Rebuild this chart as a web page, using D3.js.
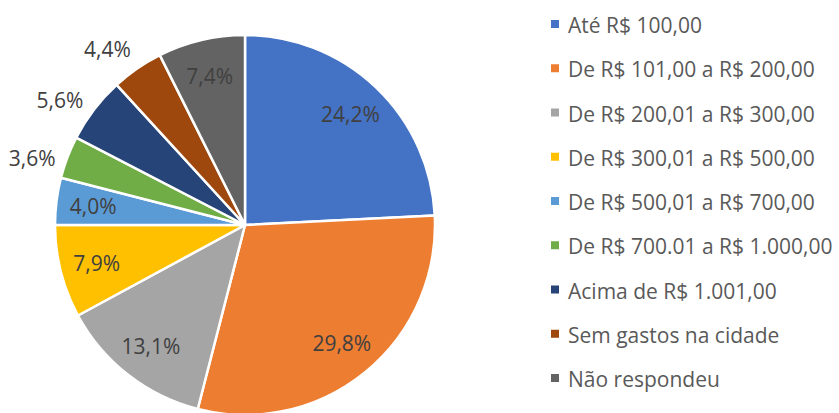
<!DOCTYPE html>
<html>
<head>
<meta charset="utf-8">
<script src="https://cdn.jsdelivr.net/npm/d3@7"></script>
<style>
  html, body { margin: 0; padding: 0; background: #fff; }
  svg { display: block; }
  text { font-family: "Open Sans", sans-serif; fill: #595959; }
</style>
</head>
<body>
<svg id="chart" width="839" height="413"></svg>
<script>
const categories = [
  "Até R$ 100,00",
  "De R$ 101,00 a R$ 200,00",
  "De R$ 200,01 a R$ 300,00",
  "De R$ 300,01 a R$ 500,00",
  "De R$ 500,01 a R$ 700,00",
  "De R$ 700.01 a R$ 1.000,00",
  "Acima de R$ 1.001,00",
  "Sem gastos na cidade",
  "Não respondeu"
];
const values = [24.2, 29.8, 13.1, 7.9, 4.0, 3.6, 5.6, 4.4, 7.4];
const valueLabels = ["24,2%", "29,8%", "13,1%", "7,9%", "4,0%", "3,6%", "5,6%", "4,4%", "7,4%"];
const outsideLabel = [false, false, false, false, false, true, true, true, false];
const colors = ["#4472C4", "#ED7D31", "#A5A5A5", "#FFC000", "#5B9BD5", "#70AD47", "#264478", "#9E480E", "#636363"];

const svg = d3.select("#chart");
const cx = 245, cy = 225, R = 190;

const data = categories.map((c, i) => ({ cat: c, value: values[i], label: valueLabels[i], out: outsideLabel[i], i }));
const pie = d3.pie().value(d => d.value).sort(null);
const arcs = pie(data);
const arc = d3.arc().innerRadius(0).outerRadius(R);
const color = d3.scaleOrdinal().domain(categories).range(colors);

const g = svg.append("g").attr("transform", `translate(${cx},${cy})`);
g.selectAll("path.slice").data(arcs).enter().append("path")
  .attr("class", "slice")
  .attr("d", arc)
  .attr("fill", d => color(d.data.cat))
  .attr("stroke", "#fff")
  .attr("stroke-width", 2.5)
  .attr("stroke-linejoin", "round");

function labelPos(d) {
  const mid = (d.startAngle + d.endAngle) / 2;
  const a = d.data.out ? mid - 3.5 * Math.PI / 180 : mid;
  const r = d.data.out ? 223 : 153;
  return [r * Math.sin(a), -r * Math.cos(a)];
}

g.selectAll("text.lbl").data(arcs).enter().append("text")
  .attr("class", "lbl")
  .attr("transform", d => `translate(${labelPos(d)})`)
  .attr("text-anchor", "middle")
  .attr("dominant-baseline", "central")
  .style("font-size", "21px")
  .style("fill", "#404040")
  .text(d => d.data.label);

// legend
const legY = d3.scalePoint().domain(categories).range([24, 378]);
const leg = svg.append("g");
const items = leg.selectAll("g").data(categories).enter().append("g")
  .attr("transform", d => `translate(551,${legY(d)})`);
items.append("rect").attr("x", 0).attr("y", -4).attr("width", 8).attr("height", 8)
  .attr("fill", d => color(d));
items.append("text").attr("x", 17).attr("y", 1)
  .attr("dominant-baseline", "central")
  .style("font-size", "21px")
  .text(d => d);
</script>
</body>
</html>
